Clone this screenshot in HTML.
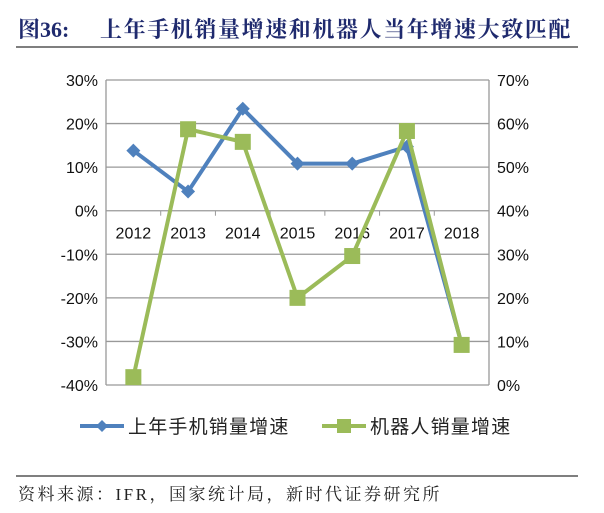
<!DOCTYPE html>
<html><head><meta charset="utf-8"><style>
body{margin:0;background:#fff;width:604px;height:508px;overflow:hidden;font-family:"Liberation Sans","Noto Sans CJK SC",sans-serif}
</style></head><body>
<svg width="604" height="508" viewBox="0 0 604 508">
<text x="18" y="37" font-family="'Liberation Serif','Noto Serif CJK SC',serif" font-weight="bold" font-size="22" fill="#1f2a6e">图36:<tspan x="100" letter-spacing="1.6">上年手机销量增速和机器人当年增速大致匹配</tspan></text>
<line x1="16" y1="47" x2="578" y2="47" stroke="#555" stroke-width="1.5"/>
<g id="plot"></g>
<g>
<line x1="80" y1="426" x2="124" y2="426" stroke="#4f81bd" stroke-width="4"/>
<path d="M102 420 L108 426 L102 432 L96 426Z" fill="#4f81bd"/>
<text x="128" y="433" font-size="19" letter-spacing="1.2" fill="#222" font-family="'Noto Sans CJK SC',sans-serif">上年手机销量增速</text>
<line x1="322" y1="426" x2="366" y2="426" stroke="#9bbb59" stroke-width="4"/>
<rect x="337" y="419" width="14" height="14" fill="#9bbb59"/>
<text x="370" y="433" font-size="19" letter-spacing="1.2" fill="#222" font-family="'Noto Sans CJK SC',sans-serif">机器人销量增速</text>
</g>
<line x1="16" y1="476" x2="578" y2="476" stroke="#555" stroke-width="1.5"/>
<text x="18" y="500" font-size="17" letter-spacing="2.5" fill="#222" font-family="'Liberation Serif','Noto Serif CJK SC',serif">资料来源：IFR，国家统计局，新时代证券研究所</text>
</svg>
<script>
const categories=["2012","2013","2014","2015","2016","2017","2018"];
const phoneGrowth=[13.8,4.4,23.4,10.8,10.8,14.7,-30.6];
const robotGrowth=[1.8,58.7,55.8,20,29.6,58.3,9.2];
const leftTicks=[30,20,10,0,-10,-20,-30,-40];
const rightTicks=[70,60,50,40,30,20,10,0];
const NS="http://www.w3.org/2000/svg";
const g=document.getElementById('plot');
const L=106,R=489,T=80,B=385;
const bw=(R-L)/categories.length;
const xS=i=>L+bw*(i+0.5);
const yL=v=>T+(30-v)/70*(B-T);
const yR=v=>T+(70-v)/70*(B-T);
function mk(t,a){const e=document.createElementNS(NS,t);for(const k in a)e.setAttribute(k,a[k]);g.appendChild(e);return e;}
leftTicks.forEach((v,i)=>{
 const gl=mk('line',{x1:L,x2:R,y1:yL(v),y2:yL(v),stroke:'#999','stroke-width':1.3});
 
 
 const t=mk('text',{x:L-8,y:yL(v)+6,'text-anchor':'end','font-size':16,fill:'#111'});
 t.textContent=v+'%';
 
 
});
rightTicks.forEach(v=>{
 const t=mk('text',{x:R+8,y:yR(v)+6,'font-size':16,fill:'#111'});
 t.textContent=v+'%';
 
 
});
const la=mk('line',{x1:L,x2:L,y1:T,y2:B,stroke:'#999','stroke-width':1.3});


const ra=mk('line',{x1:R,x2:R,y1:T,y2:B,stroke:'#999','stroke-width':1.3});


const y0=yL(0);
categories.forEach((c,i)=>{
 if(i>0){const tk=mk('line',{x1:L+bw*i,x2:L+bw*i,y1:y0,y2:y0+5,stroke:'#999'});
 
 }
 const t=mk('text',{x:xS(i),y:y0+28,'text-anchor':'middle','font-size':16,fill:'#111'});
 t.textContent=c;
 
 
});
const pb=mk('polyline',{points:phoneGrowth.map((v,i)=>xS(i)+','+yL(v)).join(' '),fill:'none',stroke:'#4f81bd','stroke-width':4,'stroke-linejoin':'round'});


phoneGrowth.forEach((v,i)=>{const x=xS(i),y=yL(v);
 const m=mk('path',{d:`M${x} ${y-7}L${x+7} ${y}L${x} ${y+7}L${x-7} ${y}Z`,fill:'#4f81bd'});
 
 });
const pg=mk('polyline',{points:robotGrowth.map((v,i)=>xS(i)+','+yR(v)).join(' '),fill:'none',stroke:'#9bbb59','stroke-width':4,'stroke-linejoin':'round'});


robotGrowth.forEach((v,i)=>{
 const m=mk('rect',{x:xS(i)-8,y:yR(v)-8,width:16,height:16,fill:'#9bbb59'});
 
 });
</script>
</body></html>
